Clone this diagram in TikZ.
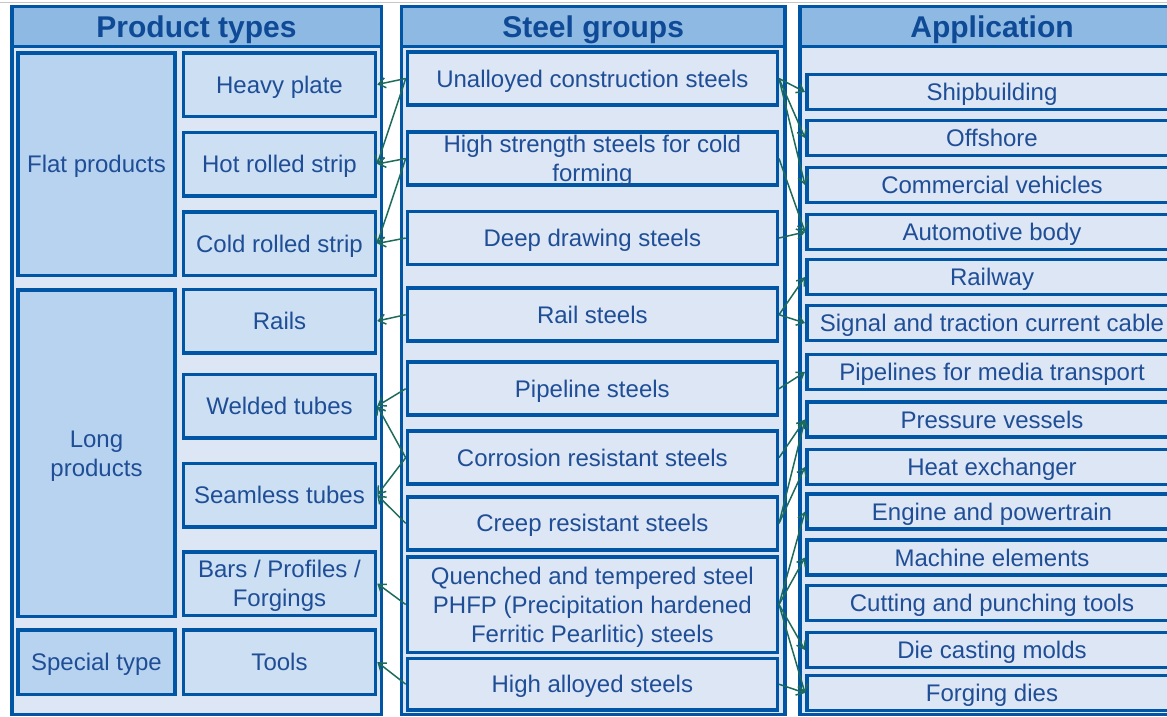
\documentclass[tikz,border=0pt]{standalone}
\usepackage{fontspec}
\setmainfont{Liberation Sans}
\usetikzlibrary{arrows.meta}
\definecolor{frameblue}{RGB}{0,85,165}
\definecolor{headblue}{RGB}{142,185,227}
\definecolor{bodyblue}{RGB}{220,230,244}
\definecolor{groupblue}{RGB}{184,211,239}
\definecolor{prodblue}{RGB}{204,223,243}
\definecolor{textblue}{RGB}{31,78,150}
\definecolor{headtext}{RGB}{14,74,150}
\definecolor{linkgreen}{RGB}{30,107,92}
\begin{document}
\begin{tikzpicture}[x=1pt, y=-1pt,
                    box/.style={draw=frameblue, line width=3.5pt, inner sep=0pt, text=textblue, align=center,
                        font=\fontsize{24}{29}\selectfont, text height=17pt, text depth=0pt},
                    twolines/.style={text height=46pt},
                    threelines/.style={text height=75pt},
                    grpbox/.style={box, fill=groupblue, minimum width=157pt},
                    prodbox/.style={box, fill=prodblue, minimum width=192pt, minimum height=63.5pt},
                    steelbox/.style={box, fill=bodyblue, minimum width=369.8pt, minimum height=53pt},
                    appbox/.style={box, fill=bodyblue, minimum width=370.5pt, minimum height=35pt},
                    colframe/.style={draw=frameblue, line width=3.5pt, fill=bodyblue},
                    headbox/.style={draw=frameblue, line width=3.5pt, fill=headblue, text=headtext, inner sep=0pt,
                        font=\fontsize{30}{36}\selectfont\bfseries, text height=21.5pt, text depth=0pt, minimum height=39.75pt},
                    link/.style={draw=linkgreen, line width=1.5pt, -{Straight Barb[length=7pt,width=10pt]}}]
                    \useasboundingbox (0,0) rectangle (1167,716);
                    \clip (0,0) rectangle (1167,716);
                    \draw [gray!45, line width=1.2pt] (0,2.5) -- (1167,2.5);
                    \draw [colframe] (11.75,6.75) rectangle (381.25,714.5);
                    \draw [colframe] (401.25,6.75) rectangle (784.95,714.5);
                    \draw [colframe] (799.75,6.75) rectangle (1184.25,714.5);
                    \node [headbox, minimum width=369.5pt] (prodhead) at (196.5,26.6) {Product types};
                    \node [headbox, minimum width=383.7pt] (steelhead) at (593.1,26.6) {Steel groups};
                    \node [headbox, minimum width=384.5pt] (apphead) at (992,26.6) {Application};
                    \node [grpbox, minimum height=222.5pt] (flat) at (96.5,164) {Flat products};
                    \node [prodbox] (heavy) at (279.5,84.5) {Heavy plate};
                    \node [prodbox] (hotstrip) at (279.5,164) {Hot rolled strip};
                    \node [prodbox] (coldstrip) at (279.5,243.5) {Cold rolled strip};
                    \node [grpbox, twolines, minimum height=326.5pt] (long) at (96.5,453) {Long\\products};
                    \node [prodbox] (rails) at (279.5,321) {Rails};
                    \node [prodbox] (welded) at (279.5,406) {Welded tubes};
                    \node [prodbox] (seamless) at (279.5,495) {Seamless tubes};
                    \node [prodbox, twolines] (bars) at (279.5,583.5) {Bars / Profiles /\\Forgings};
                    \node [grpbox, minimum height=64.5pt] (special) at (96.5,662) {Special type};
                    \node [prodbox, minimum height=64.5pt] (tools) at (279.5,662) {Tools};
                    \node [steelbox] (unalloyed) at (592.35,78.5) {Unalloyed construction steels};
                    \node [steelbox, twolines] (highstrength) at (592.35,158.5) {High strength steels for cold\\forming};
                    \node [steelbox] (deepdraw) at (592.35,238) {Deep drawing steels};
                    \node [steelbox] (railsteel) at (592.35,314.7) {Rail steels};
                    \node [steelbox] (pipeline) at (592.35,388.7) {Pipeline steels};
                    \node [steelbox] (corrosion) at (592.35,457.7) {Corrosion resistant steels};
                    \node [steelbox] (creep) at (592.35,523.3) {Creep resistant steels};
                    \node [steelbox, threelines, minimum height=95.5pt] (quenched) at (592.35,604.5) {Quenched and tempered steel\\PHFP (Precipitation hardened\\Ferritic Pearlitic) steels};
                    \node [steelbox, minimum height=51.5pt] (highalloy) at (592.35,684.2) {High alloyed steels};
                    \node [appbox] (ship) at (992,92) {Shipbuilding};
                    \node [appbox] (offshore) at (992,138) {Offshore};
                    \node [appbox] (vehicles) at (992,185) {Commercial vehicles};
                    \node [appbox] (autobody) at (992,232) {Automotive body};
                    \node [appbox] (railway) at (992,277) {Railway};
                    \node [appbox] (signal) at (992,323) {Signal and traction current cable};
                    \node [appbox] (pipelines) at (992,372) {Pipelines for media transport};
                    \node [appbox] (pressure) at (992,419.5) {Pressure vessels};
                    \node [appbox] (heatex) at (992,467) {Heat exchanger};
                    \node [appbox] (engine) at (992,511.5) {Engine and powertrain};
                    \node [appbox] (machine) at (992,557.5) {Machine elements};
                    \node [appbox] (cutting) at (992,603) {Cutting and punching tools};
                    \node [appbox] (diecast) at (992,650) {Die casting molds};
                    \node [appbox] (forging) at (992,693) {Forging dies};
                    \draw [link] (unalloyed.west) -- (heavy.east);
                    \draw [link] (unalloyed.west) -- (hotstrip.east);
                    \draw [link] (highstrength.west) -- (hotstrip.east);
                    \draw [link] (highstrength.west) -- (coldstrip.east);
                    \draw [link] (deepdraw.west) -- (coldstrip.east);
                    \draw [link] (railsteel.west) -- (rails.east);
                    \draw [link] (pipeline.west) -- (welded.east);
                    \draw [link] (corrosion.west) -- (welded.east);
                    \draw [link] (corrosion.west) -- (seamless.east);
                    \draw [link] (creep.west) -- (seamless.east);
                    \draw [link] (quenched.west) -- (bars.east);
                    \draw [link] (highalloy.west) -- (tools.east);
                    \draw [link] (unalloyed.east) -- (ship.west);
                    \draw [link] (unalloyed.east) -- (offshore.west);
                    \draw [link] (unalloyed.east) -- (vehicles.west);
                    \draw [link] (highstrength.east) -- (autobody.west);
                    \draw [link] (deepdraw.east) -- (autobody.west);
                    \draw [link] (railsteel.east) -- (railway.west);
                    \draw [link] (railsteel.east) -- (signal.west);
                    \draw [link] (pipeline.east) -- (pipelines.west);
                    \draw [link] (corrosion.east) -- (pressure.west);
                    \draw [link] (creep.east) -- (pressure.west);
                    \draw [link] (creep.east) -- (heatex.west);
                    \draw [link] (quenched.east) -- (engine.west);
                    \draw [link] (quenched.east) -- (machine.west);
                    \draw [link] (quenched.east) -- (diecast.west);
                    \draw [link] (quenched.east) -- (forging.west);
                    \draw [link] (highalloy.east) -- (forging.west);
                \end{tikzpicture}
\end{document}
